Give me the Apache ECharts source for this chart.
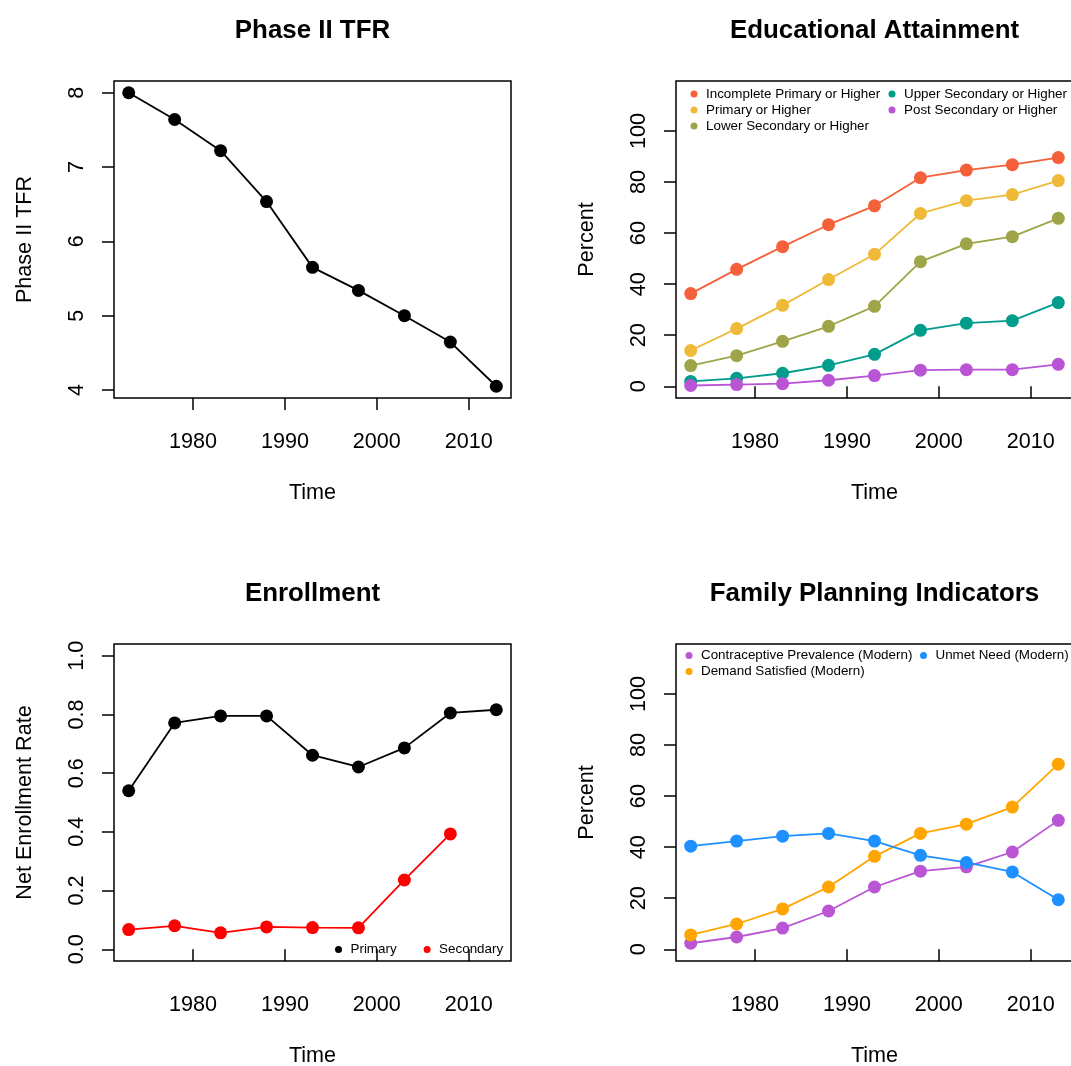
<!DOCTYPE html>
<html>
<head>
<meta charset="utf-8">
<script src="https://cdn.jsdelivr.net/npm/echarts@6/dist/echarts.min.js"></script>
<style>html,body{margin:0;padding:0;background:#fff;}#c{width:1071px;height:1066px;}</style>
</head>
<body>
<div id="c"></div>
<script>
// ---- data ----
const years = [1973, 1978, 1983, 1988, 1993, 1998, 2003, 2008, 2013];
const tfr = [8.0, 7.64, 7.22, 6.535, 5.65, 5.34, 5.0, 4.645, 4.05];

const eduIncompletePrimary = [36.3, 45.8, 54.7, 63.3, 70.7, 81.7, 84.7, 86.8, 89.6];
const eduPrimary = [14.0, 22.6, 31.7, 41.8, 51.7, 67.7, 72.7, 75.1, 80.6];
const eduLowerSecondary = [8.1, 12.0, 17.6, 23.5, 31.3, 48.8, 55.8, 58.6, 65.8];
const eduUpperSecondary = [1.9, 3.1, 5.1, 8.2, 12.5, 21.9, 24.7, 25.7, 32.8];
const eduPostSecondary = [0.3, 0.65, 1.0, 2.35, 4.2, 6.3, 6.5, 6.5, 8.6];

const enrollPrimary = [0.54, 0.771, 0.795, 0.795, 0.661, 0.621, 0.686, 0.805, 0.816];
const enrollSecondary = [0.067, 0.080, 0.056, 0.076, 0.074, 0.073, 0.236, 0.393, null];

const fpContraceptive = [2.35, 4.8, 8.3, 15.0, 24.4, 30.6, 32.3, 38.1, 50.5];
const fpDemandSatisfied = [5.6, 9.9, 15.8, 24.4, 36.4, 45.4, 49.0, 55.7, 72.5];
const fpUnmetNeed = [40.4, 42.4, 44.3, 45.4, 42.4, 36.8, 34.0, 30.3, 19.4];

const xTicks = [1980, 1990, 2000, 2010];
const tfrTicks = [4, 5, 6, 7, 8];
const enrollTicks = [0, 0.2, 0.4, 0.6, 0.8, 1.0];
const pctTicks = [0, 20, 40, 60, 80, 100];

// ---- helpers ----
const FONT = "'Liberation Sans', Arial, Helvetica, sans-serif";
const BASE = 21.6;
function pairs(vals) {
  const out = [];
  years.forEach((y, i) => { if (vals[i] !== null && vals[i] !== undefined) out.push([y, vals[i]]); });
  return out;
}
function xAxis(gi) {
  return {
    type: 'value', gridIndex: gi, min: 1971.4, max: 2014.6,
    name: 'Time', nameLocation: 'middle', nameGap: 84,
    nameTextStyle: { fontSize: BASE, color: '#000', fontFamily: FONT },
    axisLine: { show: false },
    axisTick: { show: true, inside: false, length: 12, customValues: xTicks, lineStyle: { color: '#000', width: 1.5 } },
    axisLabel: { customValues: xTicks, fontSize: BASE, color: '#000', fontFamily: FONT, margin: 33,
      formatter: v => String(v) },
    splitLine: { show: false }
  };
}
function yAxis(gi, name, min, max, ticks, fmt) {
  return {
    type: 'value', gridIndex: gi, min: min, max: max,
    name: name, nameLocation: 'middle', nameGap: 78,
    nameTextStyle: { fontSize: BASE, color: '#000', fontFamily: FONT },
    axisLine: { show: false },
    axisTick: { show: true, inside: false, length: 12, customValues: ticks, lineStyle: { color: '#000', width: 1.5 } },
    axisLabel: { customValues: ticks, rotate: 90, fontSize: BASE, color: '#000', fontFamily: FONT, margin: 26,
      formatter: fmt || (v => String(v)) },
    splitLine: { show: false }
  };
}
function line(name, vals, color, gi) {
  return {
    type: 'line', name: name, xAxisIndex: gi, yAxisIndex: gi,
    data: pairs(vals), color: color,
    symbol: 'circle', symbolSize: 13, showSymbol: true,
    lineStyle: { color: color, width: 1.8 },
    itemStyle: { color: color },
    emphasis: { disabled: true }, animation: false
  };
}
function title(text, cx, top) {
  return { text: text, left: cx - 5, top: top, textAlign: 'center',
    textStyle: { fontSize: 25.9, fontWeight: 'bold', color: '#000', fontFamily: FONT } };
}
function legend(names, left, top, orient, gap) {
  return {
    data: names, left: left, top: top, orient: orient || 'vertical',
    icon: 'circle', itemWidth: 14, itemHeight: 7, itemGap: gap == null ? 3 : gap,
    padding: 0, selectedMode: false,
    textStyle: { fontSize: 13.4, color: '#000', fontFamily: FONT, padding: 0 }
  };
}

const C = {
  incomplete: '#F4603A', primary: '#EFBA3A', lower: '#9EA548',
  upper: '#009C8C', post: '#B955D4',
  contra: '#BA55D3', demand: '#FFA500', unmet: '#1E90FF'
};

const grid = { show: true, borderColor: '#000', borderWidth: 1.5, backgroundColor: 'transparent',
  containLabel: false, outerBoundsMode: 'none' };

const option = {
  backgroundColor: '#fff',
  animation: false,
  title: [
    title('Phase II TFR', 312.5, 13),
    title('Educational Attainment', 874.5, 13),
    title('Enrollment', 312.5, 576),
    title('Family Planning Indicators', 874.5, 576)
  ],
  grid: [
    Object.assign({ left: 114, top: 81, width: 397, height: 317 }, grid),
    Object.assign({ left: 676, top: 81, width: 397, height: 317 }, grid),
    Object.assign({ left: 114, top: 644, width: 397, height: 317 }, grid),
    Object.assign({ left: 676, top: 644, width: 397, height: 317 }, grid)
  ],
  xAxis: [xAxis(0), xAxis(1), xAxis(2), xAxis(3)],
  yAxis: [
    yAxis(0, 'Phase II TFR', 3.892, 8.158, tfrTicks),
    yAxis(1, 'Percent', -4.6, 119.6, pctTicks),
    yAxis(2, 'Net Enrollment Rate', -0.04, 1.04, enrollTicks, v => Number(v).toFixed(1)),
    yAxis(3, 'Percent', -4.6, 119.6, pctTicks)
  ],
  legend: [
    legend(['Incomplete Primary or Higher', 'Primary or Higher', 'Lower Secondary or Higher'], 690.5, 87.5),
    legend(['Upper Secondary or Higher', 'Post Secondary or Higher'], 888.5, 87.5),
    legend(['Primary', 'Secondary'], 335, 943, 'horizontal', 27),
    legend(['Contraceptive Prevalence (Modern)', 'Demand Satisfied (Modern)'], 685.5, 649),
    legend(['Unmet Need (Modern)'], 920, 649)
  ],
  series: [
    line('Phase II TFR', tfr, '#000', 0),
    line('Incomplete Primary or Higher', eduIncompletePrimary, C.incomplete, 1),
    line('Primary or Higher', eduPrimary, C.primary, 1),
    line('Lower Secondary or Higher', eduLowerSecondary, C.lower, 1),
    line('Upper Secondary or Higher', eduUpperSecondary, C.upper, 1),
    line('Post Secondary or Higher', eduPostSecondary, C.post, 1),
    line('Primary', enrollPrimary, '#000', 2),
    line('Secondary', enrollSecondary, '#FF0000', 2),
    line('Contraceptive Prevalence (Modern)', fpContraceptive, C.contra, 3),
    line('Demand Satisfied (Modern)', fpDemandSatisfied, C.demand, 3),
    line('Unmet Need (Modern)', fpUnmetNeed, C.unmet, 3)
  ]
};

const chart = echarts.init(document.getElementById('c'), null, { renderer: 'canvas' });
chart.setOption(option);
</script>
</body>
</html>
